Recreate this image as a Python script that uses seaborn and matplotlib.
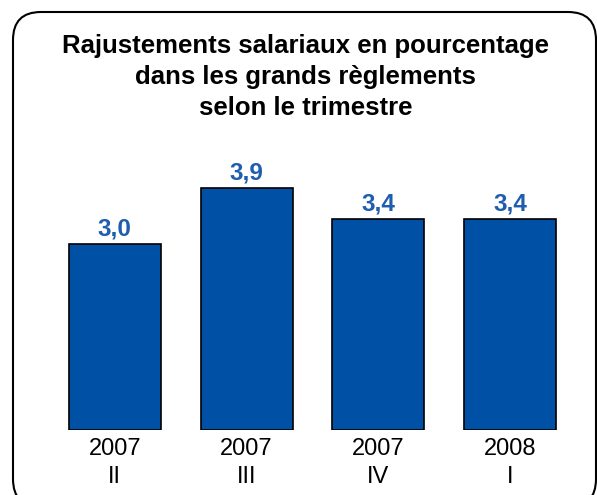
import seaborn as sns
import matplotlib.pyplot as plt
from matplotlib.patches import FancyBboxPatch
from matplotlib.transforms import IdentityTransform

periods = ["2007\nII", "2007\nIII", "2007\nIV", "2008\nI"]
values = [3.0, 3.9, 3.4, 3.4]
labels = ["3,0", "3,9", "3,4", "3,4"]

sns.set_style("white")
plt.rcParams["font.family"] = ["Liberation Sans", "DejaVu Sans"]
plt.rcParams["text.color"] = "black"
plt.rcParams["xtick.color"] = "black"

fig = plt.figure(figsize=(5.97, 4.95), dpi=100)

# rounded frame around the whole chart (pixel coordinates)
frame = FancyBboxPatch((13, -12), 583, 495, boxstyle="round,pad=0,rounding_size=28",
                       transform=IdentityTransform(), fill=False,
                       edgecolor="black", linewidth=1.5)
fig.patches.append(frame)

ax = fig.add_axes([49 / 597, 65 / 495, 527 / 597, 279 / 495])
sns.barplot(x=periods, y=values, color="#0050A5", saturation=1, width=0.7,
            edgecolor="black", linewidth=1.2, ax=ax)
ax.set_xlim(-0.5, 3.5)
ax.set_ylim(0, 4.5)
ax.set_yticks([])
sns.despine(ax=ax, left=True, top=True, right=True, bottom=True)
ax.tick_params(axis="x", length=0, labelsize=17, pad=6, labelcolor="black")
for t in ax.get_xticklabels():
    t.set_linespacing(1.35)

for i, (v, lab) in enumerate(zip(values, labels)):
    ax.text(i, v + 0.145, lab, ha="center", va="baseline", fontsize=17.5,
            fontweight="bold", color="#1F5DAE")

fig.text(305.5 / 597, 1 - 77 / 495,
         "Rajustements salariaux en pourcentage\ndans les grands règlements\nselon le trimestre",
         ha="center", va="center", fontsize=18.5, fontweight="bold", linespacing=1.35,
         color="black")

fig.savefig("out.png", dpi=100)
